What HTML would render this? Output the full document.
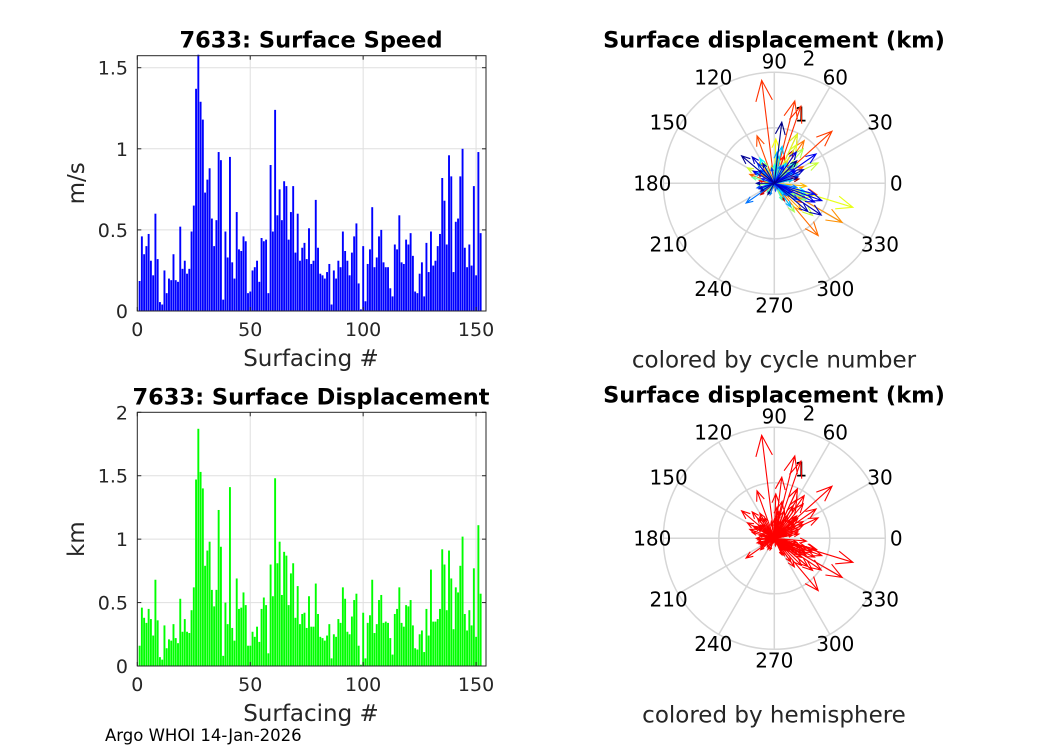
<!DOCTYPE html>
<html><head><meta charset="utf-8"><style>
body{margin:0;background:#fff}
svg{display:block;font-family:"DejaVu Sans","Liberation Sans",sans-serif}
</style></head><body>
<svg id="fig" width="1050" height="750" viewBox="0 0 1050 750" xmlns="http://www.w3.org/2000/svg">
<rect width="1050" height="750" fill="#fff"/>
</svg>
<script>
// ---- data ----
const speedValues = [0.185,0.46,0.35,0.40,0.475,0.31,0.22,0.60,0.32,0.055,0.04,0.25,0.11,0.20,0.19,0.35,0.19,0.18,0.52,0.26,0.31,0.23,0.26,0.49,0.65,1.37,1.58,1.29,1.18,0.73,0.81,0.88,0.57,0.40,0.56,0.98,0.93,0.07,0.49,0.33,0.95,0.30,0.20,0.61,0.38,0.37,0.46,0.43,0.11,0.12,0.25,0.27,0.31,0.18,0.45,0.43,0.44,0.11,0.90,0.49,1.24,0.59,0.75,0.56,0.80,0.77,0.44,0.61,0.77,0.36,0.60,0.31,0.39,0.42,0.32,0.51,0.29,0.31,0.685,0.39,0.23,0.22,0.20,0.24,0.29,0.04,0.25,0.20,0.31,0.27,0.49,0.37,0.31,0.22,0.36,0.46,0.54,0.17,0.01,0.40,0.06,0.29,0.38,0.64,0.27,0.33,0.46,0.50,0.30,0.27,0.27,0.14,0.09,0.41,0.38,0.59,0.30,0.29,0.44,0.41,0.48,0.34,0.12,0.11,0.23,0.30,0.09,0.42,0.24,0.49,0.28,0.31,0.40,0.475,0.82,0.68,0.41,0.96,0.83,0.24,0.55,0.57,0.83,1.00,0.39,0.27,0.41,0.28,0.77,0.22,0.98,0.48];
const dispValues = [0.16,0.46,0.38,0.34,0.45,0.37,0.24,0.68,0.36,0.07,0.05,0.32,0.14,0.21,0.20,0.33,0.22,0.18,0.53,0.27,0.37,0.27,0.26,0.44,0.62,1.47,1.87,1.53,1.40,0.79,0.91,0.98,0.60,0.47,0.60,1.23,0.94,0.08,0.50,0.33,1.41,0.30,0.20,0.69,0.45,0.46,0.58,0.48,0.16,0.16,0.27,0.23,0.31,0.19,0.45,0.54,0.48,0.10,0.80,0.55,1.48,0.81,0.98,0.56,0.90,0.87,0.48,0.73,0.81,0.38,0.63,0.33,0.41,0.42,0.30,0.55,0.31,0.31,0.65,0.41,0.23,0.22,0.20,0.24,0.33,0.06,0.25,0.23,0.37,0.34,0.62,0.53,0.27,0.25,0.39,0.52,0.57,0.16,0.01,0.42,0.06,0.34,0.40,0.68,0.26,0.33,0.52,0.56,0.34,0.35,0.34,0.22,0.09,0.41,0.45,0.62,0.34,0.31,0.48,0.47,0.52,0.32,0.14,0.13,0.25,0.28,0.11,0.45,0.24,0.76,0.35,0.35,0.37,0.45,0.92,0.80,0.44,0.91,0.69,0.29,0.62,0.58,0.79,1.02,0.41,0.28,0.44,0.32,0.77,0.23,1.11,0.57];
const dirDeg = [
200,40,-20,150,10,-40,120,60,-60,180,
90,220,300,30,-10,130,250,-30,70,170,
20,-50,140,50,-25,71,97,76,42,-15,
110,65,-35,160,30,-50,55,260,-20,145,
-30,195,80,-45,35,125,-5,60,240,175,
-60,20,100,210,-35,45,-15,290,88,-25,
-17,60,65,150,-40,25,80,-20,50,140,
-55,10,115,-30,185,40,-45,75,-28,165,
25,-10,230,55,-65,270,135,15,-35,90,
-20,45,205,-50,30,120,-15,190,0,60,
300,-40,150,78,-25,10,-55,85,135,35,
-30,250,170,-10,45,215,70,-45,20,130,
-35,195,280,50,-20,100,-60,35,160,-15,
62,-28,140,30,35,-25,150,-20,55,200,
130,25,-40,-34,120,210,15,180,140,240,
83,45];
const yTicksSpeed = ["0","0.5","1","1.5"];
const yTickValsSpeed = [0,0.5,1,1.5];
const yTicksDisp = ["0","0.5","1","1.5","2"];
const yTickValsDisp = [0,0.5,1,1.5,2];
const xTickVals = [0,50,100,150];
const angleLabels = [0,30,60,90,120,150,180,210,240,270,300,330];

const NS="http://www.w3.org/2000/svg";
const svg=document.getElementById('fig');
function mk(tag,attrs,parent){const e=document.createElementNS(NS,tag);for(const k in attrs)e.setAttribute(k,attrs[k]);(parent||svg).appendChild(e);return e;}
function txt(s,x,y,size,opts,parent){const t=mk('text',Object.assign({x:x,y:y,'font-size':size,fill:'#262626','text-anchor':'middle'},opts||{}),parent);t.textContent=s;return t;}

function barChart(cfg){
  const g=mk('g',{});
  
  
  const L=137.3,R=486,T=cfg.top,B=cfg.bottom,xmax=154.4,ymax=cfg.ymax;
  const sx=v=>L+v*(R-L)/xmax, sy=v=>B-v*(B-T)/ymax;
  cfg.yVals.forEach(v=>{if(v>0&&v<ymax)mk('line',{x1:L,x2:R,y1:sy(v),y2:sy(v),stroke:'#dfdfdf','stroke-width':1},g);});
  xTickVals.forEach(v=>{if(v>0)mk('line',{x1:sx(v),x2:sx(v),y1:T,y2:B,stroke:'#dfdfdf','stroke-width':1},g);});
  cfg.values.forEach((v,i)=>{
    const b=mk('rect',{x:sx(i+1)-0.9,y:sy(v),width:1.9,height:B-sy(v),fill:cfg.color},g);
    
    
  });
  mk('rect',{x:L,y:T,width:R-L,height:B-T,fill:'none',stroke:'#262626','stroke-width':1},g);
  cfg.yVals.forEach((v,i)=>{
    const y=sy(v);
    mk('line',{x1:L,x2:L+4,y1:y,y2:y,stroke:'#262626'},g);
    mk('line',{x1:R,x2:R-4,y1:y,y2:y,stroke:'#262626'},g);
    const t=txt(cfg.yLabels[i],128,y+7,19,{'text-anchor':'end'},g);
    
    
  });
  xTickVals.forEach(v=>{
    const x=sx(v);
    mk('line',{x1:x,x2:x,y1:B,y2:B-4,stroke:'#262626'},g);
    mk('line',{x1:x,x2:x,y1:T,y2:T+4,stroke:'#262626'},g);
    const t=txt(String(v),x,B+25,19,{},g);
    
    
  });
  const ti=txt(cfg.title,311,T-8,22.5,{'font-weight':'bold',fill:'#000'},g);
  
  
  const xl=txt('Surfacing #',311,B+55,23,{},g);
  
  
  const yl=txt(cfg.ylabel,0,0,23,{transform:'translate('+84+','+((T+B)/2)+') rotate(-90)'},g);
  
  
}
barChart({name:'surface-speed-chart',top:55.7,bottom:311,ymax:1.574,values:speedValues,color:'#0000ff',yVals:yTickValsSpeed,yLabels:yTicksSpeed,title:'7633: Surface Speed',ylabel:'m/s'});
barChart({name:'surface-displacement-chart',top:412.3,bottom:666,ymax:2,values:dispValues,color:'#00ff00',yVals:yTickValsDisp,yLabels:yTicksDisp,title:'7633: Surface Displacement',ylabel:'km'});

function jet(t){
  const c=x=>Math.max(0,Math.min(1,x));
  const r=c(1.5-Math.abs(4*t-3)),g=c(1.5-Math.abs(4*t-2)),b=c(1.5-Math.abs(4*t-1));
  return 'rgb('+Math.round(r*255)+','+Math.round(g*255)+','+Math.round(b*255)+')';
}
function polar(cfg){
  const g=mk('g',{});
  
  
  const cx=774.3,cy=cfg.cy,rmax=111,kmax=2;
  const sr=v=>v*rmax/kmax;
  [1,2].forEach(k=>mk('circle',{cx:cx,cy:cy,r:sr(k),fill:'none',stroke:'#d6d6d6','stroke-width':1.5},g));
  angleLabels.forEach(a=>{
    const r=a*Math.PI/180;
    mk('line',{x1:cx,y1:cy,x2:cx+rmax*Math.cos(r),y2:cy-rmax*Math.sin(r),stroke:'#d6d6d6','stroke-width':1.5},g);
    const t=txt(String(a),cx+122*Math.cos(r),cy-122*Math.sin(r)+7,20,{fill:'#000'},g);
    
    
  });
  const l1=txt('1',801,cy-62,20,{fill:'#000'},g);
  
  
  const l2=txt('2',809,cy-118,20,{fill:'#000'},g);
  
  
  const N=dispValues.length;
  dispValues.forEach((m,i)=>{
    const a=dirDeg[i]*Math.PI/180, ca=Math.cos(a), sa=Math.sin(a), L=sr(m);
    const P=(u,v)=>[cx+(u*ca-v*sa)*L, cy-(u*sa+v*ca)*L];
    const pts=[P(0,0),P(1,0),P(0.8,0.08),P(1,0),P(0.8,-0.08)].map(p=>p[0].toFixed(1)+','+p[1].toFixed(1)).join(' ');
    const col=cfg.red?'#ff0000':jet(1-i/(N-1));
    const ar=mk('polyline',{points:pts,fill:'none',stroke:col,'stroke-width':1.1},g);
    
    
  });
  const ti=txt('Surface displacement (km)',774,cy-136,22.5,{'font-weight':'bold',fill:'#000'},g);
  
  
  const sub=txt(cfg.sub,774,cy+184,23,{},g);
  
  
}
polar({name:'polar-cycle',cy:183.3,sub:'colored by cycle number',red:false});
polar({name:'polar-hemisphere',cy:538.3,sub:'colored by hemisphere',red:true});

const ft=txt('Argo WHOI 14-Jan-2026',105,741,16.5,{'text-anchor':'start',fill:'#000'});


</script>
</body></html>
